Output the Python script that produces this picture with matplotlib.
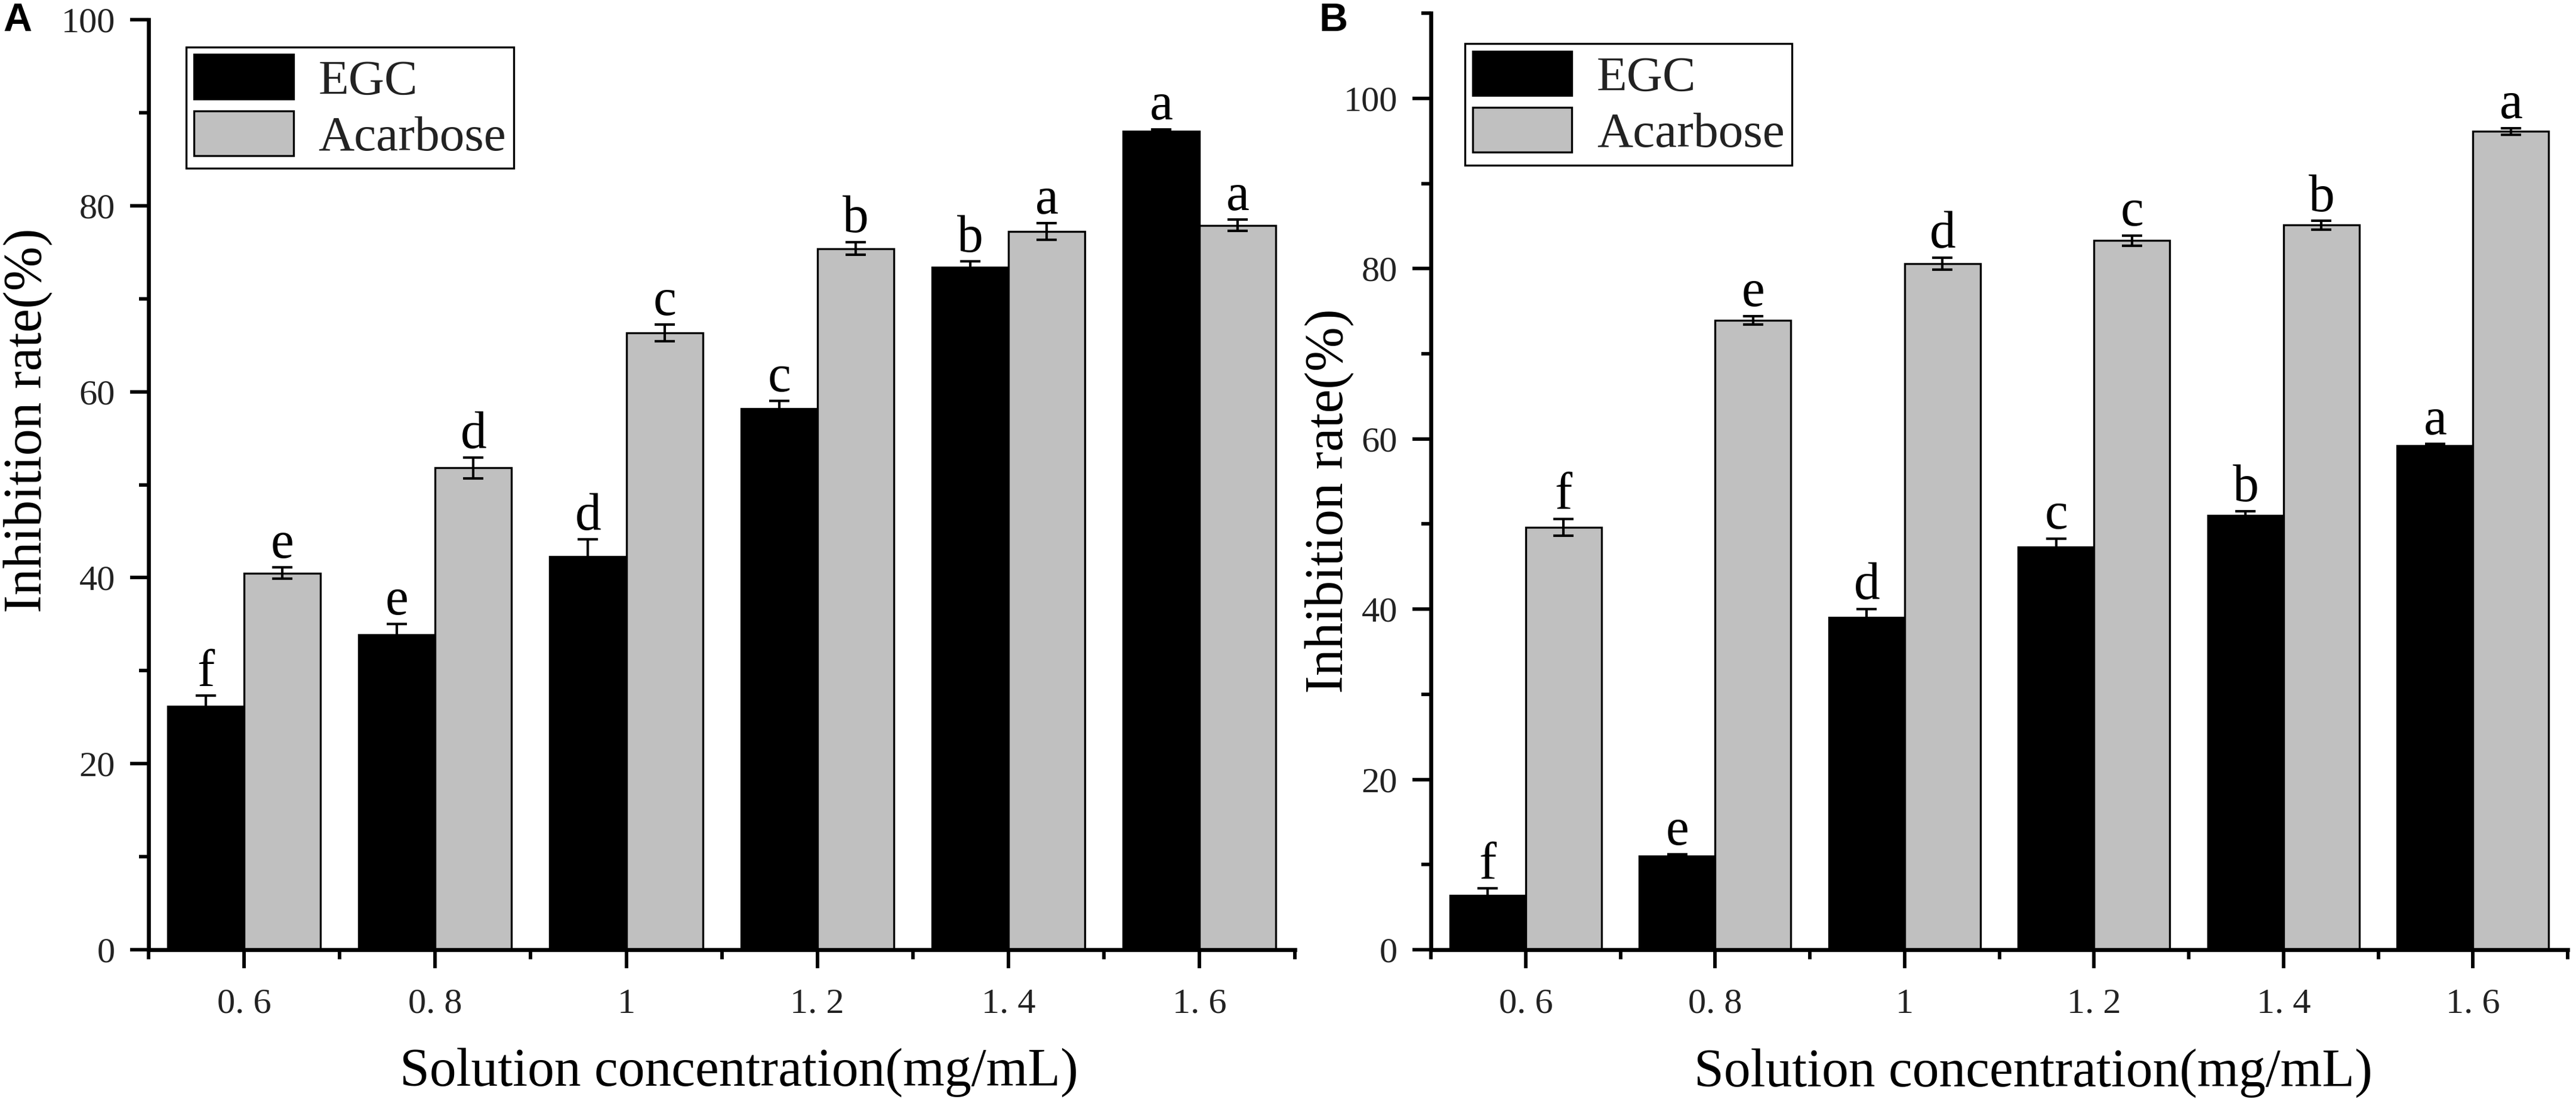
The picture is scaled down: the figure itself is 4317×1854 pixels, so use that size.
import matplotlib
matplotlib.use("Agg")
import matplotlib.pyplot as plt
from matplotlib.ticker import MultipleLocator
import numpy as np

# concentrations (mg/mL) and tick text as printed on the figure
conc = [0.6, 0.8, 1.0, 1.2, 1.4, 1.6]
tick_labels = ["0. 6", "0. 8", "1", "1. 2", "1. 4", "1. 6"]

# panel A
egc_a = [26.2, 33.9, 42.3, 58.2, 73.4, 88.0]
egc_a_err = [1.1, 1.1, 1.8, 0.8, 0.6, 0.2]
aca_a = [40.5, 51.8, 66.3, 75.4, 77.2, 77.9]
aca_a_err = [0.6, 1.1, 0.9, 0.7, 0.9, 0.6]
egc_a_sig = ["f", "e", "d", "c", "b", "a"]
aca_a_sig = ["e", "d", "c", "b", "a", "a"]

# panel B
egc_b = [6.4, 11.0, 39.0, 47.3, 51.0, 59.2]
egc_b_err = [0.8, 0.2, 1.0, 1.0, 0.5, 0.2]
aca_b = [49.6, 73.9, 80.6, 83.3, 85.1, 96.1]
aca_b_err = [1.0, 0.5, 0.7, 0.6, 0.5, 0.4]
egc_b_sig = ["f", "e", "d", "c", "b", "a"]
aca_b_sig = ["f", "e", "d", "c", "b", "a"]

plt.rcParams['font.family'] = ['Liberation Serif', 'DejaVu Serif']

GRAY = "#c0c0c0"
W = 0.08


def draw_panel(ax, egc, egc_err, aca, aca_err, egc_sig, aca_sig, ymax,
               leg_xy, ylab_xy, xlab_x):
    x = np.array(conc)
    ax.bar(x - W / 2, egc, W, color="black", edgecolor="black",
           linewidth=0.8, label="EGC", zorder=2)
    ax.bar(x + W / 2, aca, W, color=GRAY, edgecolor="black",
           linewidth=0.8, label="Acarbose", zorder=2)
    ax.errorbar(x - W / 2, egc, yerr=egc_err, fmt="none", ecolor="black",
                elinewidth=1.0, capsize=4, capthick=1.0, zorder=3)
    ax.errorbar(x + W / 2, aca, yerr=aca_err, fmt="none", ecolor="black",
                elinewidth=1.0, capsize=4, capthick=1.0, zorder=3)

    for xi, v, e, s in zip(x - W / 2, egc, egc_err, egc_sig):
        ax.annotate(s, (xi, v + e), xytext=(0, 4), textcoords="offset points",
                    ha="center", va="baseline", fontsize=21)
    for xi, v, e, s in zip(x + W / 2, aca, aca_err, aca_sig):
        ax.annotate(s, (xi, v + e), xytext=(0, 4), textcoords="offset points",
                    ha="center", va="baseline", fontsize=21)

    ax.set_xlim(0.5, 1.7)
    ax.set_ylim(0, ymax)
    ax.set_xticks(conc)
    ax.set_xticklabels(tick_labels)
    ax.set_xticks(np.arange(0.5, 1.75, 0.2), minor=True)
    ax.yaxis.set_major_locator(MultipleLocator(20))
    ax.yaxis.set_minor_locator(MultipleLocator(10))

    for side in ["top", "right"]:
        ax.spines[side].set_visible(False)
    for side in ["left", "bottom"]:
        ax.spines[side].set_linewidth(1.6)

    ax.tick_params(axis="both", which="major", direction="out", length=7.5,
                   width=1.4, labelsize=14.5, labelcolor="#222222")
    ax.tick_params(axis="both", which="minor", direction="out", length=3.8,
                   width=1.4)
    ax.tick_params(axis="x", which="major", pad=8)
    ax.tick_params(axis="y", which="major", pad=6)

    ax.set_ylabel("Inhibition rate(%)", fontsize=21.5)
    ax.yaxis.set_label_coords(*ylab_xy)
    ax.set_xlabel("Solution concentration(mg/mL)", fontsize=21.5)
    ax.xaxis.set_label_coords(xlab_x, -0.105)

    leg = ax.legend(loc="upper left", bbox_to_anchor=leg_xy, fontsize=20,
                    frameon=True, fancybox=False, framealpha=1,
                    edgecolor="black", borderpad=0.15, labelspacing=0.13,
                    handlelength=2.0, handleheight=1.0, handletextpad=0.5,
                    borderaxespad=0)
    leg.get_frame().set_linewidth(0.8)
    for t in leg.get_texts():
        t.set_color("#222222")


fig = plt.figure(figsize=(4317 / 300, 1854 / 300), dpi=300)
ax_a = fig.add_axes([0.0577, 0.1413, 0.445, 0.8409])
ax_b = fig.add_axes([0.5555, 0.1413, 0.4413, 0.8468])

draw_panel(ax_a, egc_a, egc_a_err, aca_a, aca_a_err, egc_a_sig, aca_a_sig,
           100, (0.033, 0.9705), (-0.084, 0.569), 0.515)
draw_panel(ax_b, egc_b, egc_b_err, aca_b, aca_b_err, egc_b_sig, aca_b_sig,
           110, (0.030, 0.9675), (-0.068, 0.479), 0.53)

fig.text(0.0012, 0.998, "A", fontsize=16, fontweight="bold",
         family="Liberation Sans", ha="left", va="top")
fig.text(0.512, 0.998, "B", fontsize=16, fontweight="bold",
         family="Liberation Sans", ha="left", va="top")

fig.savefig("out.png", dpi=300)
